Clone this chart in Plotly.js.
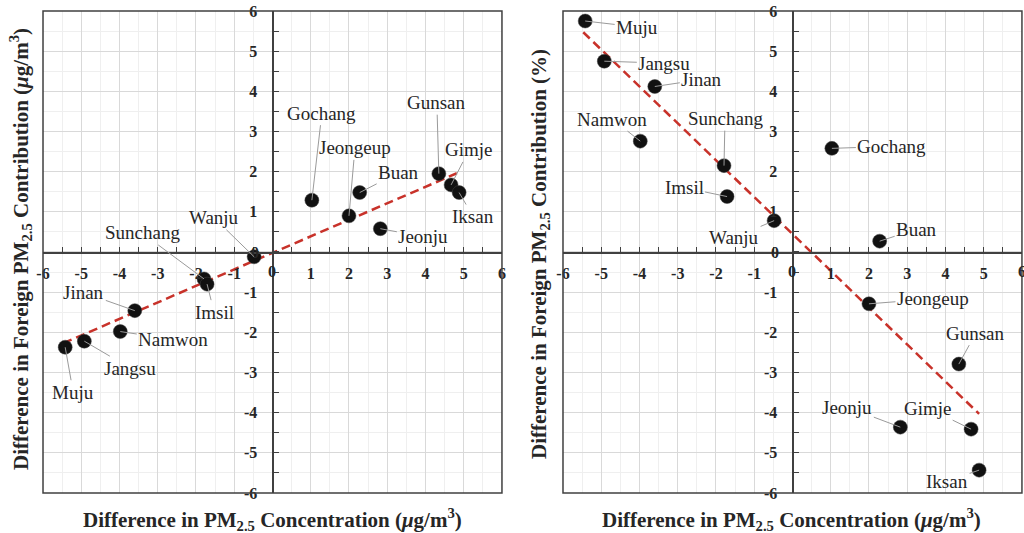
<!DOCTYPE html>
<html><head><meta charset="utf-8">
<script src="https://cdn.plot.ly/plotly-3.0.1.min.js"></script>
<style>html,body{margin:0;padding:0;background:#fff}</style>
</head><body><div id="chart" style="width:1024px;height:533px"></div>
<script>
// ---- data ----
const regions = ['Muju','Jangsu','Jinan','Namwon','Sunchang','Imsil','Wanju','Gochang','Jeongeup','Buan','Jeonju','Gunsan','Gimje','Iksan'];
const concDiff = [-5.42,-4.92,-3.60,-3.98,-1.79,-1.71,-0.48,1.03,2.00,2.28,2.82,4.35,4.67,4.88];
const contribDiffConc = [-2.37,-2.22,-1.46,-1.98,-0.67,-0.80,-0.12,1.29,0.90,1.48,0.58,1.95,1.67,1.48];
const contribDiffPct = [5.75,4.75,4.12,2.76,2.15,1.38,0.78,2.58,-1.29,0.27,-4.36,-2.79,-4.41,-5.43];
const trendLeftX = [-5.47, 4.82];
const trendLeftY = [-2.27, 1.96];
const trendRightX = [-5.47, 4.88];
const trendRightY = [5.47, -4.03];
const tickVals = [-6,-5,-4,-3,-2,-1,0,1,2,3,4,5,6];
const tickText = ['-6','-5','-4','-3','-2','-1','0','1','2','3','4','5','6'];

// ---- label offsets (pixels) ----
const offLeft = {Muju:[8,45],Jangsu:[46,27],Jinan:[-51,-18],Namwon:[53,8],Sunchang:[-62,-46],Imsil:[7,28],Wanju:[-40,-39],Gochang:[10,-87],Jeongeup:[6,-68],Buan:[39,-20],Jeonju:[43,8],Gunsan:[-2,-71],Gimje:[18,-35],Iksan:[14,24]};
const offRight = {Muju:[52,6],Jangsu:[60,2],Jinan:[47,-7],Namwon:[-28,-22],Sunchang:[1,-47],Imsil:[-43,-9],Wanju:[-40,17],Gochang:[60,-2],Buan:[37,-12],Jeongeup:[64,-5],Gunsan:[17,-31],Jeonju:[-53,-20],Gimje:[-43,-21],Iksan:[-32,11]};

const SERIF = 'Times New Roman, Liberation Serif, Times, serif';
const AX = '#404040';
const yDom = [0.0750, 0.9794];
const yMid = (yDom[0]+yDom[1])/2;
const xDomL = [0.0420, 0.4902], xDomR = [0.5498, 0.9980];
const tickFont = {family:SERIF, size:16, color:'#262626', weight:'bold'};
// the "0" labels at the crossing are drawn as annotations below
const axisTickText = tickText.map((t,i)=> tickVals[i]===0 ? '' : t);

function common(){
  return {range:[-6,6], anchor:'free',
    tickmode:'array', tickvals:tickVals, ticktext:axisTickText,
    showgrid:true, gridcolor:'#d9d9d9', gridwidth:1, zeroline:false,
    showline:true, linecolor:AX, linewidth:1.5,
    ticks:'inside', ticklen:5, tickcolor:AX, tickwidth:1,
    minor:{dtick:0.5, tick0:0, showgrid:true, gridcolor:'#efefef', gridwidth:1, ticks:'inside', ticklen:5, tickcolor:AX, tickwidth:1},
    tickfont:tickFont, fixedrange:true};
}
function xax(domain){ return Object.assign(common(), {domain, position:yMid, side:'bottom', ticklabelstandoff:6}); }
function yax(xmid){ return Object.assign(common(), {domain:yDom, position:xmid, side:'left', ticklabelstandoff:12}); }

const lineStyle = {color:'#c8322a', width:2.5, dash:'9px,5px'};
const markerStyle = {color:'#111', size:14, line:{color:'#444', width:0.5}};

const traces = [
  {x:trendLeftX, y:trendLeftY, xaxis:'x', yaxis:'y', mode:'lines', line:lineStyle, hoverinfo:'skip'},
  {x:concDiff, y:contribDiffConc, xaxis:'x', yaxis:'y', mode:'markers', marker:markerStyle, text:regions},
  {x:trendRightX, y:trendRightY, xaxis:'x2', yaxis:'y2', mode:'lines', line:lineStyle, hoverinfo:'skip'},
  {x:concDiff, y:contribDiffPct, xaxis:'x2', yaxis:'y2', mode:'markers', marker:markerStyle, text:regions}
];

const annotations = [];
const zeroText = tickText[tickVals.indexOf(0)];
// "0" labels at the axes' crossing (centre of each square plot area)
function zeroLabels(xa, ya){
  annotations.push({xref:xa+' domain', yref:ya+' domain', x:0.5, y:0.5, text:zeroText, showarrow:false,
    xanchor:'right', yanchor:'middle', xshift:-11, font:tickFont});
  annotations.push({xref:xa+' domain', yref:ya+' domain', x:0.5, y:0.5, text:zeroText, showarrow:false,
    xanchor:'center', yanchor:'top', yshift:-9, font:tickFont});
}
zeroLabels('x','y'); zeroLabels('x2','y2');

function addLabels(xs, ys, off, xref, yref){
  regions.forEach((r,i)=>{
    annotations.push({x:xs[i], y:ys[i], xref, yref, text:r, showarrow:true, arrowhead:0, arrowwidth:1,
      arrowcolor:'#9a9a9a', ax:off[r][0], ay:off[r][1], standoff:0,
      font:{family:SERIF, size:19, color:'#262626'}});
  });
}
addLabels(concDiff, contribDiffConc, offLeft, 'x', 'y');
addLabels(concDiff, contribDiffPct, offRight, 'x2', 'y2');

// right-edge "6" of the right panel, which Plotly drops at the page edge
annotations.push({xref:'x2 domain', yref:'y2 domain', x:1, y:0.5, text:tickText[tickVals.length-1], showarrow:false,
  xanchor:'center', yanchor:'top', yshift:-9, font:tickFont});

const titleFont = {family:SERIF, size:21, color:'#262626', weight:'bold'};
const xTitle = 'Difference in PM<sub>2.5</sub> Concentration (<i>μ</i>g/m<sup>3</sup>)';
annotations.push({xref:'paper', yref:'paper', x:272/1024, y:1-519/533, text:xTitle, showarrow:false, font:titleFont, xanchor:'center', yanchor:'middle'});
annotations.push({xref:'paper', yref:'paper', x:791/1024, y:1-519/533, text:xTitle, showarrow:false, font:titleFont, xanchor:'center', yanchor:'middle'});
annotations.push({xref:'paper', yref:'paper', x:20/1024, y:1-249/533, text:'Difference in Foreign PM<sub>2.5</sub> Contribution (<i>μ</i>g/m<sup>3</sup>)', showarrow:false, font:titleFont, textangle:-90, xanchor:'center', yanchor:'middle'});
annotations.push({xref:'paper', yref:'paper', x:540/1024, y:1-254/533, text:'Difference in Foreign PM<sub>2.5</sub> Contribution (%)', showarrow:false, font:titleFont, textangle:-90, xanchor:'center', yanchor:'middle'});

const boxLine = {color:AX, width:1.5};
const shapes = [
  {type:'rect', xref:'x domain', yref:'y domain', x0:0, x1:1, y0:0, y1:1, line:boxLine, layer:'above'},
  {type:'rect', xref:'x2 domain', yref:'y2 domain', x0:0, x1:1, y0:0, y1:1, line:boxLine, layer:'above'}
];

const layout = {
  width:1024, height:533, margin:{l:0,r:0,t:0,b:0},
  paper_bgcolor:'#fff', plot_bgcolor:'#fff', showlegend:false,
  font:{family:SERIF},
  xaxis:xax(xDomL), yaxis:yax((xDomL[0]+xDomL[1])/2),
  xaxis2:xax(xDomR), yaxis2:yax((xDomR[0]+xDomR[1])/2),
  annotations, shapes
};
Plotly.newPlot('chart', traces, layout, {displayModeBar:false, staticPlot:true});
</script></body></html>
